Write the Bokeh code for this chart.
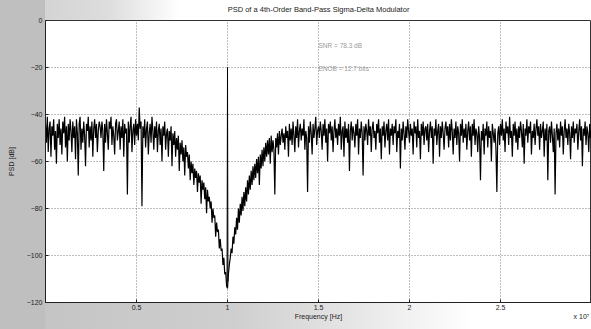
from bokeh.plotting import figure
from bokeh.models import Label, FixedTicker, Range1d
from bokeh.embed import file_html
from bokeh.resources import INLINE

title_text = "PSD of a 4th-Order Band-Pass Sigma-Delta Modulator"
x_label = "Frequency [Hz]"
y_label = "PSD [dB]"
x_scale_note = "x 10\u2077"
note_1 = "SNR  =  78.3  dB"
note_2 = "ENOB  =  12.7  bits"

freq_start = 0.0
freq_step = 0.005
psd_db = [
    # 0.00 - 0.095
    -44, -52, -41, -56, -46, -43, -58, -45, -49, -42, -55, -47, -61, -44, -50, -42, -53, -46, -57, -43,
    # 0.10
    -48, -41, -54, -45, -60, -44, -51, -42, -47, -56, -43, -50, -45, -59, -42, -48, -66, -44, -41, -55,
    # 0.20
    -46, -52, -43, -49, -62, -44, -47, -41, -54, -45, -51, -43, -58, -46, -42, -50, -44, -56, -47, -43,
    # 0.30
    -45, -50, -43, -47, -64, -44, -52, -42, -48, -55, -43, -46, -41, -53, -45, -49, -57, -44, -42, -51,
    # 0.40
    -47, -43, -55, -45, -50, -42, -58, -44, -48, -46, -74, -43, -52, -45, -41, -56, -47, -44, -53, -42,
    # 0.50
    -49, -44, -51, -37, -46, -43, -79, -45, -50, -42, -54, -46, -43, -57, -48, -44, -52, -41, -47, -55,
    # 0.60
    -45, -50, -43, -56, -47, -44, -53, -46, -60, -45, -49, -43, -55, -48, -46, -58, -47, -51, -45, -62,
    # 0.70
    -48, -53, -47, -58, -50, -55, -49, -64, -52, -57, -51, -60, -54, -66, -53, -58, -56, -63, -57, -68,
    # 0.80
    -60, -65, -61, -70, -63, -67, -64, -73, -65, -69, -66, -78, -68, -72, -69, -76, -71, -82, -72, -77,
    # 0.90
    -75, -80, -77, -86, -80, -84, -83, -92, -86, -90, -89, -97, -93, -98, -97, -104, -101, -108, -107, -113,
    # 1.00
    -114, -108, -104, -101, -97, -99, -92, -95, -88, -91, -84, -89, -80, -86, -78, -83, -75, -81, -73, -79,
    # 1.10
    -71, -77, -68, -74, -66, -72, -64, -70, -62, -68, -61, -67, -59, -65, -58, -70, -57, -63, -55, -62,
    # 1.20
    -54, -60, -52, -58, -51, -57, -50, -61, -49, -56, -51, -55, -74, -50, -54, -48, -57, -47, -53, -49,
    # 1.30
    -46, -52, -48, -55, -45, -50, -47, -58, -44, -51, -46, -53, -43, -49, -56, -45, -50, -42, -54, -47,
    # 1.40
    -44, -51, -46, -49, -42, -55, -47, -50, -73, -45, -52, -43, -48, -57, -44, -50, -46, -41, -53, -47,
    # 1.50
    -45, -50, -43, -47, -55, -44, -49, -42, -52, -46, -60, -44, -48, -43, -51, -45, -56, -47, -42, -50,
    # 1.60
    -46, -53, -44, -49, -41, -55, -47, -45, -58, -43, -50, -46, -52, -44, -64, -47, -43, -51, -45, -48,
    # 1.70
    -54, -44, -49, -42, -57, -46, -50, -43, -48, -66, -45, -51, -44, -47, -53, -42, -49, -45, -56, -46,
    # 1.80
    -43, -50, -47, -55, -44, -48, -42, -52, -46, -59, -45, -49, -43, -54, -47, -44, -51, -42, -57, -46,
    # 1.90
    -49, -44, -53, -45, -48, -42, -56, -47, -50, -44, -63, -46, -51, -43, -48, -55, -45, -50, -42, -47,
    # 2.00
    -52, -44, -49, -46, -57, -43, -48, -45, -54, -42, -50, -47, -59, -44, -49, -43, -53, -46, -45, -51,
    # 2.10
    -44, -56, -47, -43, -50, -45, -61, -46, -49, -42, -53, -47, -44, -58, -45, -50, -43, -48, -55, -46,
    # 2.20
    -43, -49, -45, -54, -44, -51, -42, -47, -57, -46, -50, -43, -53, -45, -48, -60, -44, -49, -42, -52,
    # 2.30
    -46, -50, -44, -55, -47, -43, -51, -45, -58, -44, -49, -42, -53, -46, -48, -56, -45, -50, -68, -47,
    # 2.40
    -51, -44, -57, -46, -49, -43, -54, -45, -50, -47, -60, -44, -48, -52, -46, -55, -73, -48, -45, -53,
    # 2.50
    -44, -49, -42, -51, -46, -56, -43, -48, -45, -53, -41, -50, -47, -58, -44, -49, -43, -52, -46, -55,
    # 2.60
    -45, -50, -43, -47, -54, -44, -61, -46, -49, -42, -52, -45, -48, -43, -57, -47, -50, -44, -53, -46,
    # 2.70
    -42, -49, -45, -55, -44, -50, -47, -43, -58, -46, -51, -44, -68, -47, -45, -52, -43, -49, -56, -46,
    # 2.80
    -74, -48, -44, -51, -46, -54, -43, -49, -45, -57, -47, -42, -50, -46, -53, -44, -48, -59, -45, -50,
    # 2.90
    -43, -52, -46, -48, -44, -55, -47, -42, -51, -45, -62, -46, -49, -43, -53, -45, -48, -56, -44, -50,
    # 3.00
    -47,
]
freq = [round(freq_start + i * freq_step, 4) for i in range(len(psd_db))]

tone_freq = [0.9975, 1.0, 1.0025]
tone_db = [-112, -20, -111]

x_ticks = [0, 0.5, 1, 1.5, 2, 2.5]
x_tick_labels = {0: "", 0.5: "0.5", 1: "1", 1.5: "1.5", 2: "2", 2.5: "2.5"}
y_ticks = [-120, -100, -80, -60, -40, -20, 0]

FONT = "Liberation Sans"
NBSP = "\u00a0"

p = figure(width=591, height=329, output_backend="svg", toolbar_location=None,
           x_range=Range1d(0, 3), y_range=Range1d(-120, 0),
           min_border_left=45, min_border_right=0, min_border_top=20, min_border_bottom=27)
p.border_fill_alpha = 0
p.background_fill_color = "white"
p.styles = {
    "background": (
        "linear-gradient(#bfbfbf, #bfbfbf) 0 0 / 45px 100% no-repeat, "
        "linear-gradient(to right, #c2c2c2 0%, #cfcfcf 40%, #e6e6e6 60%, #ffffff 80%) 0 100% / 100% 27px no-repeat, "
        "linear-gradient(to right, #cdcdcd 0%, #dddddd 60%, #ffffff 100%) 0 0 / 180px 20px no-repeat, "
        "#ffffff"
    )
}
p.outline_line_color = "#333333"
p.outline_line_width = 1

# title
p.title.text = title_text
p.title.align = "center"
p.title.vertical_align = "top"
p.title.text_font = FONT
p.title.text_font_size = "7.5px"
p.title.text_font_style = "normal"
p.title.text_color = "#222222"
p.title.standoff = 9
p.title.offset = 6

# grids
for g in (p.xgrid, p.ygrid):
    g.grid_line_color = "#444444"
    g.grid_line_dash = "1 2"
    g.grid_line_alpha = 0.7
    g.grid_line_width = 1
p.xgrid.ticker = FixedTicker(ticks=x_ticks)
p.ygrid.ticker = FixedTicker(ticks=y_ticks)

# axes
p.xaxis.ticker = FixedTicker(ticks=x_ticks)
p.xaxis.major_label_overrides = x_tick_labels
p.yaxis.ticker = FixedTicker(ticks=y_ticks)
for ax in (p.xaxis[0], p.yaxis[0]):
    ax.axis_line_color = "#222222"
    ax.major_tick_line_color = "#222222"
    ax.major_tick_in = 3
    ax.major_tick_out = 0
    ax.minor_tick_line_color = None
    ax.major_label_text_font = FONT
    ax.major_label_text_font_size = "7px"
    ax.major_label_text_color = "#222222"
    ax.axis_label_text_font = FONT
    ax.axis_label_text_font_size = "7px"
    ax.axis_label_text_font_style = "normal"
    ax.axis_label_text_color = "#222222"
# the x-axis label carries the "x 10^7" scale note at its right end; the label stays centred
p.xaxis.axis_label = NBSP * 127 + x_label + NBSP * 119 + x_scale_note
p.yaxis.axis_label = y_label
p.xaxis.major_label_standoff = 2
p.xaxis.axis_label_standoff = 0
p.yaxis.major_label_standoff = 3
p.yaxis.axis_label_standoff = 9

# data
p.line(freq, psd_db, line_color="black", line_width=1.2)
p.line(tone_freq, tone_db, line_color="black", line_width=1)

# texts
p.add_layout(Label(x=1.5, y=-10.6, text=note_1, text_align="left", text_baseline="middle",
                   text_font=FONT, text_font_size="6.5px", text_color="#9a9a9a"))
p.add_layout(Label(x=1.5, y=-20.3, text=note_2, text_align="left", text_baseline="middle",
                   text_font=FONT, text_font_size="6.5px", text_color="#9a9a9a"))

open("out.html", "w").write(file_html(p, INLINE))
